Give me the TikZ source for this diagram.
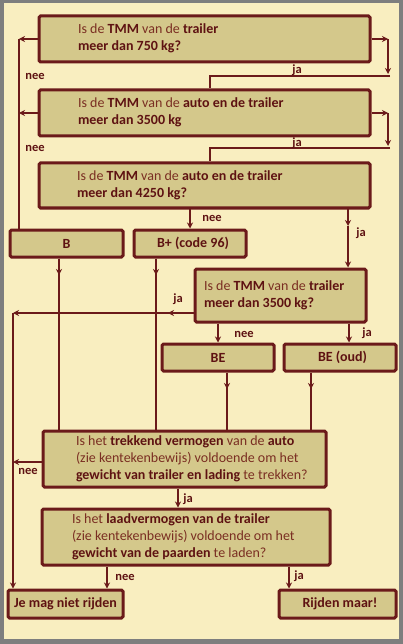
\documentclass[tikz,border=0pt]{standalone}
\usepackage{fontspec}
\setmainfont{Carlito}
\usetikzlibrary{arrows.meta}
\definecolor{bgy}{HTML}{F9EEC0}
\definecolor{boxf}{HTML}{D4C88B}
\definecolor{brd}{HTML}{6B1A1A}
\definecolor{txt}{HTML}{7A2E22}
\definecolor{txtb}{HTML}{5E1212}
\definecolor{frm}{HTML}{7E7E7E}
\newcommand\bw[1]{\textbf{\color{txtb}#1}}
\newcommand\qtext[3]{\makebox[#1][l]{\hspace*{#2}\begin{tabular}{@{}l@{}}#3\end{tabular}}}
\begin{document}
\begin{tikzpicture}[x=1pt,y=-1pt,
  box/.style={draw=brd, line width=3pt, fill=boxf, rounded corners=1.5pt, inner sep=0pt, text=txt, font=\fontsize{14}{16.8}\selectfont},
  res/.style={box, font=\fontsize{14}{16.8}\selectfont\bfseries, text=txtb},
  conn/.style={draw=brd, line width=1.9pt},
  arr/.style={conn, -{Stealth[length=6pt,width=6pt]}},
  lab/.style={text=txtb, font=\fontsize{12.5}{14}\selectfont\bfseries, inner sep=0pt}
]
\fill[frm] (0,0) rectangle (403,644);
\fill[bgy] (4,3) rectangle (399,639);
\useasboundingbox (0,0) rectangle (403,644);

% boxes
\node[box, minimum width=331pt, minimum height=46pt] (q1) at (204.5,39)
  {\qtext{331pt}{39pt}{Is de \bw{TMM} van de \bw{trailer}\\ \bw{meer dan 750 kg?}}};
\node[box, minimum width=331pt, minimum height=46pt] (q2) at (204.5,113)
  {\qtext{331pt}{39pt}{Is de \bw{TMM} van de \bw{auto en de trailer}\\ \bw{meer dan 3500 kg}}};
\node[box, minimum width=331pt, minimum height=45pt] (q3) at (204.5,185.5)
  {\qtext{331pt}{38pt}{Is de \bw{TMM} van de \bw{auto en de trailer}\\ \bw{meer dan 4250 kg?}}};
\node[res, minimum width=113pt, minimum height=27pt] (B) at (66.5,243.5) {B};
\node[res, minimum width=112pt, minimum height=27pt] (Bplus) at (190,243.5) {\hspace*{6pt}B+ (code 96)};
\node[box, minimum width=171pt, minimum height=53pt] (q4) at (280.5,295.5)
  {\qtext{171pt}{9pt}{Is de \bw{TMM} van de \bw{trailer}\\ \bw{meer dan 3500 kg?}}};
\node[res, minimum width=112pt, minimum height=27pt] (BE) at (218,357.5) {BE};
\node[res, minimum width=112pt, minimum height=27pt] (BEoud) at (340,357.5) {\hspace*{5pt}BE (oud)};
\node[box, minimum width=283pt, minimum height=56pt] (q5) at (184.5,459)
  {\qtext{283pt}{33pt}{Is het \bw{trekkend vermogen} van de \bw{auto}\\ (zie kentekenbewijs) voldoende om het\\ \bw{gewicht van trailer en lading} te trekken?}};
\node[box, minimum width=288pt, minimum height=56pt] (q6) at (186,537)
  {\qtext{288pt}{30pt}{Is het \bw{laadvermogen van de trailer}\\ (zie kentekenbewijs) voldoende om het\\ \bw{gewicht van de paarden} te laden?}};
\node[res, minimum width=115pt, minimum height=28pt] (niet) at (65.5,604) {Je mag niet rijden};
\node[res, minimum width=117pt, minimum height=28pt] (maar) at (337.5,604) {\hspace*{5pt}Rijden maar!};

% q1 connectors
\coordinate (r1) at (388,39);
\coordinate (r1b) at (388,74);
\coordinate (h1r) at (390,76);
\coordinate (h1l) at (210,76);
\draw[arr] (q1.east) -- (r1);
\draw[arr] (r1) -- (r1b);
\draw[conn] (h1r) -- (h1l) -- (h1l |- q2.north);
\node[lab] (ja1) at (297,70) {ja};
\coordinate (l1) at (19,39);
\draw[arr] (q1.west) -- (l1);
\draw[conn] (l1) -- (l1 |- B.north);
\node[lab] (nee1) at (35,76) {nee};

% q2 connectors
\coordinate (r2) at (388,113);
\coordinate (r2b) at (388,146);
\coordinate (h2r) at (390,148);
\coordinate (h2l) at (210,148);
\draw[arr] (q2.east) -- (r2);
\draw[arr] (r2) -- (r2b);
\draw[conn] (h2r) -- (h2l) -- (h2l |- q3.north);
\node[lab] (ja2) at (297,143) {ja};
\coordinate (l2) at (19,113);
\draw[arr] (q2.west) -- (l2);
\node[lab] (nee2) at (35,148) {nee};

% q3 connectors
\draw[arr] (Bplus.north |- q3.south) -- (Bplus.north);
\node[lab] (nee3) at (212,218) {nee};
\coordinate (j3) at (348,226);
\draw[arr] (j3 |- q3.south) -- (j3);
\draw[arr] (j3) -- (j3 |- q4.north);
\node[lab] (ja3) at (361,233) {ja};

% B and B+ down
\coordinate (bm) at (59,275);
\draw[conn] (bm |- B.south) -- (bm |- q5.north);
\draw[arr] (bm |- B.south) -- (bm);
\coordinate (bpm) at (156,275);
\draw[conn] (bpm |- Bplus.south) -- (bpm |- q5.north);
\draw[arr] (bpm |- Bplus.south) -- (bpm);

% q4 connectors
\coordinate (l4) at (13,313);
\coordinate (l4m) at (168,313);
\draw[arr] (q4.west |- l4) -- (l4m);
\draw[arr] (q4.west |- l4) -- (l4);
\draw[arr] (l4) -- (l4 |- niet.north);
\node[lab] (ja4) at (178,299) {ja};
\draw[arr] (BE.north |- q4.south) -- (BE.north);
\node[lab] (nee4) at (244,334) {nee};
\coordinate (j4) at (349,330);
\draw[arr] (j4 |- q4.south) -- (j4 |- BEoud.north);
\node[lab] (ja4b) at (367,333) {ja};

% BE and BE (oud) down
\coordinate (bem) at (227,389);
\draw[conn] (bem |- BE.south) -- (bem |- q5.north);
\draw[arr] (bem |- BE.south) -- (bem);
\coordinate (beom) at (311,389);
\draw[conn] (beom |- BEoud.south) -- (beom |- q5.north);
\draw[arr] (beom |- BEoud.south) -- (beom);

% q5 connectors
\coordinate (l5) at (13,462);
\draw[arr] (q5.west |- l5) -- (l5);
\node[lab] (nee5) at (28,471) {nee};
\coordinate (j5) at (178,498);
\draw[arr] (j5 |- q5.south) -- (j5 |- q6.north);
\node[lab] (ja5) at (188,499) {ja};

% q6 connectors
\coordinate (n6) at (107,577);
\draw[arr] (n6 |- q6.south) -- (n6 |- niet.north);
\node[lab] (nee6) at (125,577) {nee};
\coordinate (j6) at (289,577);
\draw[arr] (j6 |- q6.south) -- (j6 |- maar.north);
\node[lab] (ja6) at (299,576) {ja};
\end{tikzpicture}
\end{document}
